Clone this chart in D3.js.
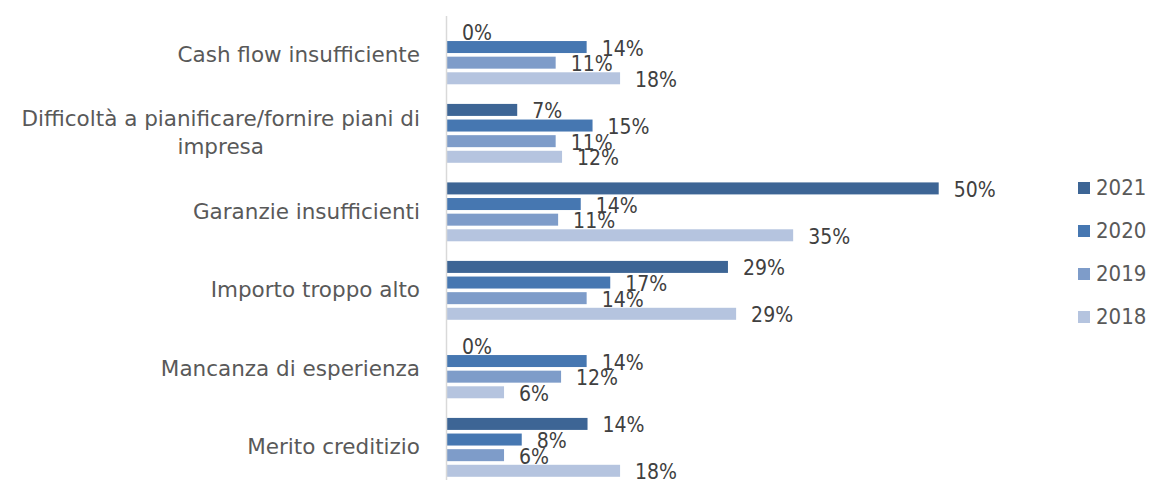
<html>
<head>
<meta charset="utf-8">
<title>Motivi del rifiuto</title>
<script src="https://cdn.jsdelivr.net/npm/d3@7"></script>
<style>
  body { margin: 0; background: #fff; }
  text { font-family: "DejaVu Sans", sans-serif; }
  .num { font-family: "DejaVu Sans Condensed", "DejaVu Sans", sans-serif; font-stretch: condensed; }
</style>
</head>
<body>
<div id="chart"></div>
<script type="text/javascript">
    // Data ***********************
    var categories = ["Cash flow insufficiente",
                      "Difficoltà a pianificare/fornire piani di impresa",
                      "Garanzie insufficienti",
                      "Importo troppo alto",
                      "Mancanza di esperienza",
                      "Merito creditizio"];
    var series = ["2021", "2020", "2019", "2018"];
    var values2021 = [0, 7.14, 50, 28.57, 0, 14.29];
    var values2020 = [14.2, 14.8, 13.6, 16.6, 14.2, 7.6];
    var values2019 = [11.05, 11.05, 11.3, 14.2, 11.6, 5.8];
    var values2018 = [17.6, 11.7, 35.2, 29.4, 5.8, 17.6];
    var colors = ["#3d6595", "#4677b1", "#7e9cc9", "#b5c4df"];

    var valuesBySeries = {"2021": values2021, "2020": values2020, "2019": values2019, "2018": values2018};

    var width = 1149, height = 480;

    var svg = d3.select("#chart").append("svg")
        .attr("width", width)
        .attr("height", height);

    // scales
    var x = d3.scaleLinear().domain([0, 50]).range([447, 938.7]);
    var y = d3.scaleBand().domain(categories).range([15.6, 486.6])
        .paddingInner(0.25).paddingOuter(0.125);
    var ySub = d3.scaleBand().domain(series).range([0, y.bandwidth()])
        .paddingInner(0.232);
    var color = d3.scaleOrdinal().domain(series).range(colors);

    // flatten to one record per bar
    var bars = [];
    categories.forEach(function (c, i) {
        series.forEach(function (s) {
            bars.push({cat: c, year: s, value: valuesBySeries[s][i]});
        });
    });

    // bars
    svg.append("g").selectAll("rect")
        .data(bars)
        .enter()
        .append("rect")
        .attr("x", x(0))
        .attr("y", function (d) { return y(d.cat) + ySub(d.year); })
        .attr("width", function (d) { return x(d.value) - x(0); })
        .attr("height", ySub.bandwidth())
        .attr("fill", function (d) { return color(d.year); });

    // value labels
    svg.append("g").selectAll("text")
        .data(bars)
        .enter()
        .append("text")
        .attr("class", "num")
        .attr("x", function (d) { return x(d.value) + 15; })
        .attr("y", function (d) { return y(d.cat) + ySub(d.year) + ySub.bandwidth() / 2 + 8.5; })
        .attr("fill", "#404040")
        .style("font-size", "21px")
        .text(function (d) { return d3.format(".0f")(d.value) + "%"; });

    // category axis
    var axis = svg.append("g")
        .attr("transform", "translate(446,0)")
        .call(d3.axisLeft(y).tickSize(0).tickPadding(26));

    axis.select(".domain").attr("stroke", "#d9d9d9").attr("stroke-width", 1.5);
    axis.selectAll(".tick text")
        .attr("fill", "#595959")
        .style("font-size", "21.5px")
        .style("font-family", "'DejaVu Sans', sans-serif")
        .each(wrap);

    function wrap() {
        var text = d3.select(this);
        var maxW = 425;
        if (this.getComputedTextLength() <= maxW) return;
        var words = text.text().split(/\s+/);
        var lines = [], line = [];
        text.text(null);
        var tspan = text.append("tspan");
        words.forEach(function (w) {
            line.push(w);
            tspan.text(line.join(" "));
            if (tspan.node().getComputedTextLength() > maxW && line.length > 1) {
                line.pop();
                lines.push(line.join(" "));
                line = [w];
            }
        });
        lines.push(line.join(" "));
        text.text(null);
        var lh = 28;
        var widest = 0;
        lines.forEach(function (l, i) {
            var t = text.append("tspan")
                .attr("x", 0)
                .attr("y", (i - (lines.length - 1) / 2) * lh)
                .attr("dy", "0.32em")
                .text(l);
            widest = Math.max(widest, t.node().getComputedTextLength());
        });
        var cx = -26 - widest / 2;
        text.attr("text-anchor", "middle");
        text.selectAll("tspan").attr("x", cx);
    }

    // legend
    var legend = svg.append("g").selectAll("g")
        .data(series)
        .enter()
        .append("g")
        .attr("transform", function (d, i) { return "translate(1078," + (182 + i * 43) + ")"; });

    legend.append("rect")
        .attr("width", 12)
        .attr("height", 12)
        .attr("fill", function (d) { return color(d); });

    legend.append("text")
        .attr("class", "num")
        .attr("x", 18)
        .attr("y", 12.5)
        .attr("fill", "#595959")
        .style("font-size", "22px")
        .text(function (d) { return d; });
</script>
</body>
</html>
